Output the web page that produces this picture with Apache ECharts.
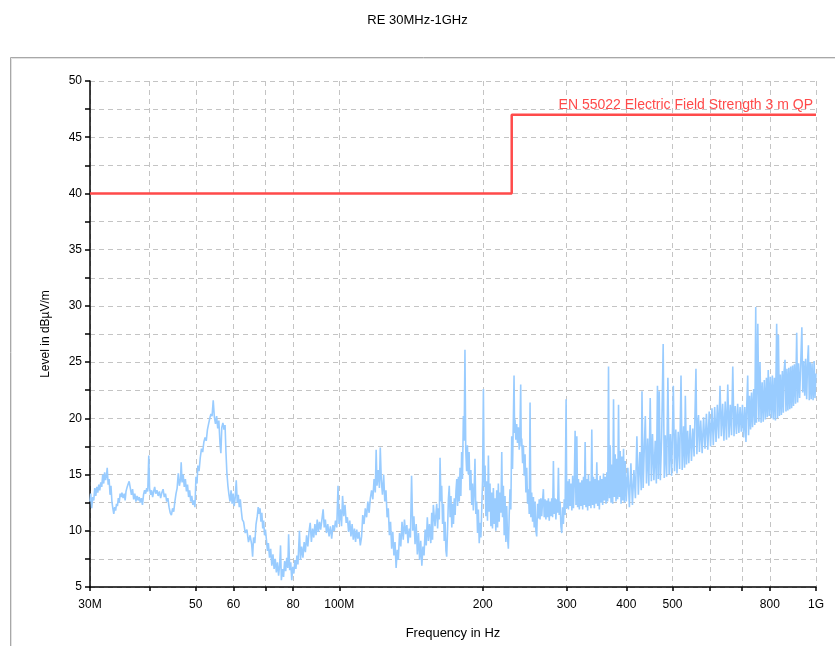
<!DOCTYPE html>
<html>
<head>
<meta charset="utf-8">
<script src="https://cdn.jsdelivr.net/npm/echarts@6/dist/echarts.min.js"></script>
<style>
  html, body { margin: 0; padding: 0; background: #fff; }
  #chart { width: 835px; height: 646px; }
</style>
</head>
<body>
<div id="chart"></div>
<script>
// x 轴刻度 (MHz)
const tickFreqs = [30, 40, 50, 60, 70, 80, 100, 200, 300, 400, 500, 600, 700, 800, 1000]
const labelFreqs = [30, 50, 60, 80, 100, 200, 300, 400, 500, 800, 1000]
const labelNames = { 30: "30M", 100: "100M", 1000: "1G" }

// 限值线 EN 55022 3 m QP
const limitFreq = [30, 230, 230, 1000]
const limitLevel = [40, 40, 47, 47]
const limitName = "EN 55022 Electric Field Strength 3 m QP"

// 测量曲线 [MHz, dBµV/m]  30 - 70 MHz
const traceA = [
  [30.0,12.6],[30.1,13.3],[30.25,12.0],[30.4,13.0],[30.55,12.7],[30.7,13.8],[30.85,13.1],[31.0,13.9],[31.15,13.4],[31.3,14.1],
  [31.45,13.6],[31.6,14.3],[31.75,13.9],[31.9,15.0],[32.05,14.2],[32.2,15.2],[32.35,14.5],[32.5,15.0],[32.6,15.6],[32.75,14.1],
  [32.9,14.6],[33.05,13.2],[33.2,14.0],[33.35,12.6],[33.5,12.0],[33.65,11.5],[33.8,12.1],[33.95,11.8],[34.1,12.4],[34.25,12.2],
  [34.4,12.9],[34.55,12.5],[34.7,13.3],[34.85,13.0],[35.0,13.4],[35.2,12.9],[35.4,13.3],[35.55,12.7],[35.7,13.5],[35.9,13.9],
  [36.1,14.2],[36.25,14.4],[36.45,13.8],[36.65,13.2],[36.85,13.7],[37.05,12.8],[37.25,13.3],[37.45,12.6],[37.65,13.1],[37.85,12.7],
  [38.05,13.0],[38.25,12.5],[38.45,12.9],[38.65,12.3],[38.85,13.2],[39.05,13.6],[39.25,13.3],[39.45,13.8],[39.65,13.5],[39.85,16.7],
  [40.0,13.8],[40.2,13.2],[40.4,13.6],[40.6,13.0],[40.8,13.5],[41.0,13.9],[41.2,13.3],[41.45,13.6],[41.7,13.1],[41.95,13.5],
  [42.2,12.9],[42.45,13.4],[42.7,13.7],[42.95,13.0],[43.2,13.3],[43.45,12.6],[43.7,12.9],[43.95,12.1],[44.2,11.6],[44.45,11.4],
  [44.7,12.0],[44.95,11.7],[45.2,12.6],[45.45,13.3],[45.7,13.8],[45.95,15.1],[46.2,14.0],[46.45,14.6],[46.6,16.1],[46.8,14.3],
  [47.05,15.0],[47.3,13.9],[47.55,14.6],[47.8,13.5],[48.05,14.1],[48.3,13.0],[48.55,13.6],[48.8,12.6],[49.05,13.1],[49.3,12.3],
  [49.55,12.7],[49.8,12.1],[50.05,14.8],[50.3,14.2],[50.5,15.8],[50.8,15.3],[51.1,16.5],[51.4,17.3],[51.7,17.0],[52.0,17.9],
  [52.3,18.3],[52.6,18.0],[52.9,19.0],[53.2,19.5],[53.5,20.0],[53.8,20.4],[54.1,20.2],[54.4,21.6],[54.7,20.1],[55.0,19.5],
  [55.3,20.2],[55.6,19.1],[55.9,19.8],[56.2,17.8],[56.45,16.9],[56.7,19.2],[57.0,19.6],[57.3,19.0],[57.6,19.4],[57.85,17.0],
  [58.1,15.2],[58.4,14.0],[58.7,13.2],[59.0,12.6],[59.3,13.6],[59.6,12.4],[59.9,13.3],[60.2,12.2],[60.5,13.0],[60.8,14.5],
  [61.1,12.5],[61.4,13.2],[61.7,12.1],[62.0,12.8],[62.3,11.8],[62.6,11.0],[63.0,10.8],[63.5,9.8],[64.0,10.1],[64.5,9.0],
  [65.0,9.6],[65.5,8.8],[65.8,7.7],[66.1,9.4],[66.5,8.9],[66.9,10.6],[67.3,11.3],[67.6,12.1],[67.9,11.5],[68.2,12.0],
  [68.5,10.8],[68.8,11.6],[69.1,10.2],[69.4,10.9],[69.7,9.6],[70.0,10.1]
]

// 70 - 155 MHz
const traceB = [
  [70.3,9.3],[70.7,8.2],[71.0,8.9],[71.4,7.6],[71.8,8.4],[72.2,6.9],[72.6,7.9],[73.0,6.6],[73.4,7.5],[73.8,6.3],
  [74.2,7.2],[74.6,6.0],[75.0,7.0],[75.3,8.7],[75.6,5.6],[76.0,6.6],[76.4,5.9],[76.8,7.3],[77.2,6.4],[77.6,7.6],
  [78.0,6.7],[78.3,9.7],[78.7,6.5],[79.1,7.2],[79.5,5.6],[79.9,6.8],[80.3,6.2],[80.7,7.4],[81.1,6.6],[81.5,7.8],
  [81.9,7.0],[82.5,10.0],[82.9,7.4],[83.4,8.6],[83.9,7.6],[84.4,9.0],[84.9,8.1],[85.4,9.6],[85.9,8.6],[86.4,9.9],
  [86.9,10.7],[87.4,9.0],[87.9,10.2],[88.4,9.4],[88.9,10.6],[89.4,9.6],[89.9,11.0],[90.4,9.9],[90.9,10.8],[91.4,10.1],
  [91.9,10.9],[92.5,11.9],[93.0,10.3],[93.5,11.0],[94.0,9.8],[94.6,10.6],[95.2,9.5],[95.8,10.4],[96.4,9.3],[97.0,10.5],
  [97.6,10.0],[98.2,10.9],[98.8,10.3],[99.4,14.0],[99.9,10.6],[100.5,11.9],[101.1,10.4],[101.6,13.1],[102.2,11.3],[102.8,12.3],
  [103.4,10.7],[104.0,11.2],[104.6,9.9],[105.2,10.9],[105.8,9.5],[106.4,10.6],[107.0,9.2],[107.6,10.2],[108.2,9.0],[108.8,10.1],
  [109.4,9.3],[110.0,9.9],[110.7,8.7],[111.4,9.5],[112.0,11.4],[112.7,10.6],[113.4,12.0],[114.1,11.2],[114.8,12.6],[115.5,11.6],
  [116.2,12.9],[116.9,13.6],[117.6,12.8],[118.3,14.6],[119.0,13.4],[119.5,17.2],[120.0,14.0],[120.7,15.4],[121.4,13.8],[121.9,17.4],
  [122.5,14.5],[123.2,13.2],[123.9,15.0],[124.6,12.6],[125.3,13.6],[126.0,11.2],[126.7,12.0],[127.4,9.6],[128.1,10.8],[128.8,8.4],
  [129.5,9.9],[130.2,7.8],[130.9,9.0],[131.6,6.7],[132.3,8.3],[133.0,7.4],[133.8,9.8],[134.6,8.6],[135.4,10.8],[136.2,9.2],
  [137.0,11.0],[137.8,9.7],[138.6,10.5],[139.4,8.9],[140.2,10.2],[141.0,9.4],[141.8,14.9],[142.6,10.0],[143.4,11.3],[144.2,8.8],
  [145.0,10.6],[145.8,7.9],[146.6,9.8],[147.4,7.4],[148.2,9.1],[149.0,6.9],[149.8,8.6],[150.6,7.8],[151.4,10.1],[152.2,8.7],
  [153.0,11.2],[153.8,9.1],[154.6,10.6]
]

// 155 - 400 MHz
const traceC = [
  [155.6,8.9],[156.3,11.6],[156.9,9.2],[157.5,12.3],[158.8,10.4],[160.1,12.4],[160.8,10.2],[161.4,12.0],[162.1,11.0],[162.7,16.5],
  [163.4,12.6],[164.0,14.0],[164.7,10.6],[165.4,12.4],[166.0,9.1],[166.7,10.8],[167.4,8.2],[168.0,7.7],[168.7,10.0],[169.4,12.8],
  [170.1,14.0],[170.8,11.2],[171.5,13.1],[172.2,10.3],[172.9,12.4],[173.6,10.6],[174.3,12.9],[175.0,11.4],[175.7,13.5],[176.4,14.6],
  [177.1,12.2],[177.8,14.8],[178.5,12.6],[179.2,15.6],[179.9,13.1],[180.6,17.0],[181.3,14.6],[182.1,20.2],[182.8,18.0],[183.5,26.1],
  [184.2,17.2],[185.0,15.3],[185.7,17.6],[186.5,15.0],[187.2,17.0],[188.0,13.6],[188.8,15.4],[189.6,12.3],[190.3,14.2],[191.1,11.8],
  [191.9,13.7],[192.6,16.4],[193.4,11.5],[194.2,12.6],[195.0,9.8],[195.8,11.9],[196.6,8.9],[197.4,10.7],[198.2,9.4],[199.0,12.0],
  [199.8,14.5],[200.6,22.6],[201.4,13.9],[202.2,15.8],[203.0,11.3],[203.8,14.4],[204.6,10.9],[205.5,16.7],[206.3,11.7],[207.1,14.2],
  [208.0,10.4],[208.8,13.4],[209.6,10.2],[210.5,13.8],[211.4,10.6],[212.2,12.9],[213.0,10.0],[213.9,13.6],[214.8,10.3],[215.6,14.2],
  [216.5,10.8],[217.4,13.4],[218.3,11.6],[219.2,17.0],[220.0,11.2],[220.9,14.0],[221.8,9.6],[222.7,13.1],[223.6,9.0],[224.5,12.2],
  [225.4,9.4],[226.3,8.4],[227.2,11.3],[228.1,13.7],[229.0,11.9],[230.0,18.4],[230.9,15.5],[231.9,20.2],[232.6,23.8],[233.2,18.7],
  [233.7,19.9],[234.6,18.1],[235.6,19.5],[236.5,17.8],[237.5,19.2],[238.5,17.2],[239.4,19.0],[240.2,23.0],[240.8,17.5],[241.4,18.2],
  [242.4,16.0],[243.3,17.6],[244.3,14.9],[245.3,16.8],[246.3,13.4],[247.3,15.6],[248.3,12.4],[249.3,13.7],[250.3,11.5],[251.3,21.4],
  [252.3,11.2],[253.3,13.4],[254.4,10.8],[255.4,13.0],[256.4,10.3],[257.4,12.6],[258.5,10.0],[259.5,9.5],[260.6,12.4],[261.6,11.1],
  [262.7,12.8],[263.7,11.0],[264.8,12.9],[265.9,11.3],[266.9,12.6],[268.0,13.7],[269.1,11.2],[270.2,12.8],[271.3,11.0],[272.4,12.7],
  [273.5,11.2],[274.6,12.9],[275.7,10.9],[276.8,12.6],[277.9,11.3],[279.0,12.9],[280.2,11.2],[281.3,16.2],[282.4,11.5],[283.6,12.9],
  [284.7,11.0],[285.9,12.8],[287.0,11.6],[288.2,15.6],[289.3,11.4],[290.5,12.6],[291.7,10.4],[292.9,9.8],[294.0,12.1],[295.2,10.6],
  [296.4,12.8],[297.6,11.4],[299.1,21.7],[300.1,12.0],[301.3,14.4],[302.5,11.9],[303.7,14.6],[305.0,12.2],[306.2,14.2],[307.5,11.8],
  [308.7,14.9],[309.9,12.0],[311.2,14.4],[312.4,18.9],[313.7,12.3],[315.0,18.4],[316.2,12.1],[317.5,14.6],[318.8,11.9],[320.1,14.3],
  [321.4,12.2],[322.7,14.5],[324.0,11.9],[325.3,14.8],[326.6,12.3],[327.9,17.9],[329.2,12.1],[330.6,14.6],[331.9,11.8],[333.2,15.0],
  [334.6,12.2],[335.9,14.4],[337.2,12.0],[338.6,19.0],[340.0,12.3],[341.4,14.8],[342.8,12.0],[344.2,14.6],[345.5,12.4],[346.9,16.1],
  [348.4,12.2],[349.8,14.5],[351.2,11.9],[352.6,14.9],[354.0,12.5],[355.4,14.6],[356.9,12.3],[358.3,15.1],[359.8,12.7],[361.2,14.8],
  [362.7,12.4],[364.1,15.2],[365.6,12.6],[367.1,24.6],[368.6,12.9],[370.1,17.6],[371.6,12.5],[373.1,15.9],[374.6,12.4],[376.1,21.7],
  [377.6,13.0],[379.1,16.8],[380.6,12.6],[382.2,16.4],[383.7,12.8],[385.3,21.2],[386.9,13.0],[388.4,17.1],[390.0,12.4],[391.6,16.6],
  [393.1,12.7],[394.7,17.3],[396.3,12.5],[397.9,16.2]
]

// 400 - 1000 MHz
const traceD = [
  [400,12.6],[403,15.6],[406,12.1],[409,16.0],[412,12.3],[415,15.4],[418,12.9],[421,18.4],[424,13.2],[427,17.0],
  [430,13.6],[431.5,22.4],[434,13.8],[436.5,17.6],[438.5,20.2],[441,14.2],[443.5,18.2],[446,14.0],[449,21.8],[451.5,14.4],
  [454,18.6],[457,14.5],[460,18.0],[462.5,14.2],[465,22.9],[467,14.6],[469,22.4],[471.5,14.5],[474.5,18.3],[478,26.6],
  [480.5,14.7],[483,18.5],[486,14.8],[489,23.6],[492,15.0],[495,18.6],[498,14.9],[502,22.9],[505,15.3],[508,19.0],
  [511,15.1],[514,18.8],[517.5,15.5],[521,23.8],[524,15.4],[527.5,19.3],[530,15.6],[532,22.0],[535,15.9],[538,18.9],
  [541,16.0],[544.5,19.4],[548,16.2],[551.5,19.1],[555,16.6],[560,24.4],[562.5,16.8],[565,19.5],[567,20.3],[569.5,17.0],
  [573,19.8],[577,16.9],[581,20.1],[585,17.3],[589,20.4],[593,17.2],[597,20.6],[601,17.5],[605,20.9],[609,17.6],
  [613,21.0],[617,17.9],[621,21.2],[625,18.2],[629,22.9],[633,18.4],[637,21.3],[641,18.0],[645,21.5],[649,18.1],
  [653,23.0],[657,18.3],[661,21.2],[665,18.5],[669,24.6],[673,18.4],[677,21.1],[681,18.6],[685,21.3],[689,18.7],
  [693,21.0],[697,18.8],[701,21.2],[705,18.3],[709,21.0],[713,17.9],[716,21.3],[719,23.8],[722,18.5],[725.5,22.0],
  [729,19.0],[732.5,22.3],[736,19.2],[740,22.6],[744,19.4],[747.5,29.9],[750,19.6],[752.5,22.9],[755,28.4],[759,19.7],
  [763,25.0],[767,19.6],[771,23.2],[775,19.7],[779,23.4],[783,19.9],[787,23.6],[790.5,20.1],[794,24.3],[798,20.2],
  [802,23.7],[806,20.0],[810,23.8],[814,19.9],[818,23.6],[822,19.8],[827,28.4],[830.5,20.0],[834,27.4],[838,20.2],
  [842,23.9],[846,20.3],[850,24.2],[854,20.5],[857.5,24.3],[861,25.2],[865,20.6],[869,24.4],[873,20.7],[877,24.5],
  [881,20.8],[885,24.6],[889,20.9],[893,24.7],[897,21.1],[901,24.8],[906,21.3],[911,27.6],[915,21.4],[919,24.9],
  [924,21.8],[929,25.0],[934,28.1],[938,22.3],[942,25.1],[947,22.0],[951,25.3],[956,21.7],[960,25.0],[964,26.5],
  [968,21.6],[972,25.0],[977,21.7],[981,24.9],[986,21.6],[991,25.1],[995,21.8],[1000,24.0]
]

const traceData = traceA.concat(traceB, traceC, traceD)
const limitData = limitFreq.map((f, i) => [f, limitLevel[i]])

const gridColor = "#c4c4c4"
const textFont = "Arial, 'Liberation Sans', sans-serif"

const chart = echarts.init(document.getElementById("chart"))
const option = {
  animation: false,
  backgroundColor: "#fff",
  title: {
    text: "RE 30MHz-1GHz",
    left: "center",
    top: 9,
    textStyle: { fontSize: 13, fontWeight: "normal", color: "#000", fontFamily: textFont },
  },
  grid: { left: 90, right: 19, top: 81, bottom: 59 },
  xAxis: {
    type: "log",
    logBase: 10,
    min: 30,
    max: 1000,
    name: "Frequency in Hz",
    nameLocation: "middle",
    nameGap: 40,
    nameTextStyle: { fontSize: 13, color: "#000", fontFamily: textFont },
    axisLine: { lineStyle: { color: "#000", width: 1.5 } },
    axisTick: { customValues: tickFreqs, length: 4, lineStyle: { color: "#000", width: 1.5 } },
    axisLabel: {
      customValues: labelFreqs,
      margin: 12,
      fontSize: 12,
      color: "#000",
      fontFamily: textFont,
      formatter: v => labelNames[v] || String(v),
    },
    splitLine: { show: true, lineStyle: { color: gridColor, type: [5, 4], width: 1 } },
    minorTick: { show: false },
  },
  yAxis: {
    type: "value",
    min: 5,
    max: 50,
    interval: 2.5,
    name: "Level in dBµV/m",
    nameLocation: "middle",
    nameGap: 38,
    nameTextStyle: { fontSize: 12, color: "#000", fontFamily: textFont },
    axisLine: { show: true, lineStyle: { color: "#000", width: 1.5 } },
    axisTick: { show: true, length: 5, lineStyle: { color: "#000", width: 1.5 } },
    axisLabel: {
      margin: 8,
      fontSize: 12,
      color: "#000",
      fontFamily: textFont,
      formatter: v => (v % 5 === 0 ? String(v) : ""),
    },
    splitLine: { show: true, lineStyle: { color: gridColor, type: [5, 4], width: 1 } },
  },
  series: [
    {
      name: "trace",
      type: "line",
      data: traceData,
      showSymbol: false,
      symbol: "none",
      lineStyle: { color: "#99ccff", width: 1.6 },
      z: 2,
    },
    {
      name: "limit",
      type: "line",
      data: limitData,
      showSymbol: false,
      symbol: "none",
      lineStyle: { color: "#ff4a4a", width: 2.5 },
      z: 3,
    },
  ],
}
chart.setOption(option)

// 外框 + 限值线标签
const labelPos = chart.convertToPixel({ gridIndex: 0 }, [1000, 47])
chart.setOption({
  graphic: [
    {
      type: "rect",
      shape: { x: 10.5, y: 57.5, width: 840, height: 600 },
      style: { fill: "none", stroke: "#a8a8a8", lineWidth: 1 },
      silent: true,
      z: -1,
    },
    {
      type: "rect",
      shape: { x: 11.5, y: 58.5, width: 840, height: 600 },
      style: { fill: "none", stroke: "#e2e2e2", lineWidth: 1 },
      silent: true,
      z: -1,
    },
    {
      type: "text",
      x: labelPos[0] - 3,
      y: labelPos[1] - 3,
      style: {
        text: limitName,
        fill: "#ff4a4a",
        font: "14px " + textFont,
        textAlign: "right",
        textVerticalAlign: "bottom",
      },
      z: 10,
    },
  ],
})
</script>
</body>
</html>
